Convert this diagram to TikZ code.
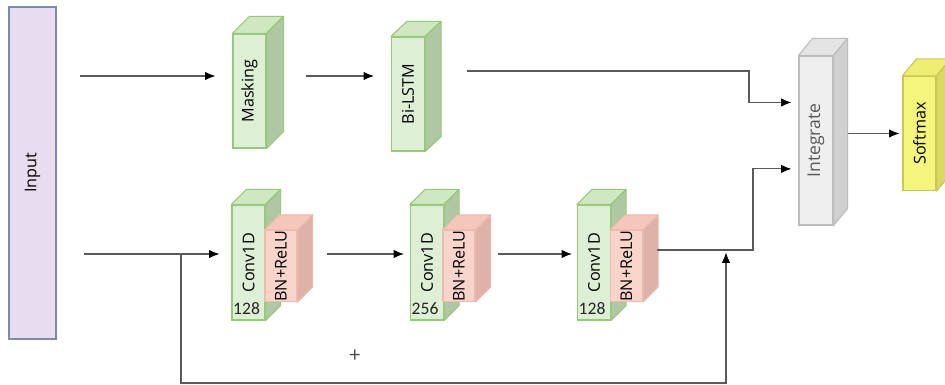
\documentclass[tikz,border=0pt]{standalone}
\usepackage{fontspec}
\usepackage{graphicx}
\setmainfont{Open Sans}
\newfontfamily\numfont{Carlito}
\usetikzlibrary{positioning, arrows.meta, calc}

\definecolor{convfront}{HTML}{DDEFD5}
\definecolor{convtop}{HTML}{D0E8C2}
\definecolor{convside}{HTML}{AFC7A3}
\definecolor{convline}{HTML}{96C97A}
\definecolor{bnfront}{HTML}{F9D4CA}
\definecolor{bntop}{HTML}{F5C6BA}
\definecolor{bnside}{HTML}{DEB2A8}
\definecolor{bnline}{HTML}{EDBBAE}
\definecolor{intfront}{HTML}{EFEFEF}
\definecolor{inttop}{HTML}{E4E4E4}
\definecolor{intside}{HTML}{D0D0D0}
\definecolor{intline}{HTML}{BDBDBD}
\definecolor{smfront}{HTML}{F5F57E}
\definecolor{smtop}{HTML}{EEEE74}
\definecolor{smside}{HTML}{D8D862}
\definecolor{smline}{HTML}{C8C852}
\definecolor{inputfill}{HTML}{E8DDEE}
\definecolor{inputline}{HTML}{7D8CA6}
\definecolor{wire}{HTML}{5A5A5A}

% vertical label
\newcommand{\vtext}[1]{\rotatebox{90}{#1}}
% top and side face of a layer block
\newcommand{\layerdepth}[4]{%
  \filldraw[fill=#4top, draw=#4line, line width=0.8pt, line join=round]
    (#1.north west) -- ($(#1.north west)+(#2,#3)$) -- ($(#1.north east)+(#2,#3)$) -- (#1.north east) -- cycle;
  \filldraw[fill=#4side, draw=#4line, line width=0.8pt, line join=round]
    (#1.north east) -- ($(#1.north east)+(#2,#3)$) -- ($(#1.south east)+(#2,#3)$) -- (#1.south east) -- cycle;
}

\begin{document}
\begin{tikzpicture}[
  x=0.025cm, y=-0.025cm,
  font=\fontsize{11.5}{13}\selectfont,
  layerbox/.style={rectangle, line width=0.8pt, inner sep=0pt, minimum width=8.25mm, minimum height=28.5mm, text=black},
  convbox/.style={layerbox, fill=convfront, draw=convline},
  bnbox/.style={layerbox, fill=bnfront, draw=bnline, minimum width=8mm, minimum height=17mm},
  inputbox/.style={rectangle, fill=inputfill, draw=inputline, line width=0.8pt, minimum width=11.75mm, minimum height=83mm, inner sep=0pt},
  numlabel/.style={inner sep=0.5pt, font=\numfont\fontsize{12.5}{14}\selectfont, text=black!85},
  flow/.style={-{Latex[length=2.6mm, width=2.1mm, color=black]}, draw=wire, line width=0.75pt},
  wireline/.style={draw=wire, line width=0.75pt}
]
\useasboundingbox (0,0) rectangle (945,385);

% Input
\node[inputbox] (input) at (32.5,173) {\vtext{Input}};

% Upper branch
\node[convbox] (mask) at (249.5,91) {\vtext{Masking}};
\layerdepth{mask}{17}{-17}{conv}
\node[convbox] (lstm) at (408,94) {\vtext{Bi-LSTM}};
\layerdepth{lstm}{16}{-15}{conv}

% Lower branch
\node[convbox, minimum height=28.75mm] (conv1) at (248.5,262.5) {\vtext{Conv1D}};
\layerdepth{conv1}{15}{-15}{conv}
\node[numlabel, above right=1.2mm and 0.2mm of conv1.south west] (n1) {128};
\node[bnbox] (bn1) at (281,266) {\vtext{BN+ReLU}};
\layerdepth{bn1}{15}{-15}{bn}

\node[convbox, minimum height=28.75mm] (conv2) at (427,262.5) {\vtext{Conv1D}};
\layerdepth{conv2}{15}{-15}{conv}
\node[numlabel, above right=1.2mm and 0.2mm of conv2.south west] (n2) {256};
\node[bnbox] (bn2) at (459,266) {\vtext{BN+ReLU}};
\layerdepth{bn2}{15}{-15}{bn}

\node[convbox, minimum height=28.75mm] (conv3) at (594,262.5) {\vtext{Conv1D}};
\layerdepth{conv3}{15}{-15}{conv}
\node[numlabel, above right=1.2mm and 0.2mm of conv3.south west] (n3) {128};
\node[bnbox] (bn3) at (626.5,266) {\vtext{BN+ReLU}};
\layerdepth{bn3}{15}{-15}{bn}

% Merge and output
\node[layerbox, fill=intfront, draw=intline, minimum width=8.5mm, minimum height=42.25mm, text=black!65, font=\fontsize{12.5}{14}\selectfont] (integ) at (816,140.5) {\vtext{Integrate}};
\layerdepth{integ}{14}{-17}{int}
\node[layerbox, fill=smfront, draw=smline] (soft) at (919.5,133.5) {\vtext{Softmax}};
\layerdepth{soft}{14}{-17}{sm}

% Routing
\coordinate (toprow) at (0,76);
\coordinate (lstmrow) at (0,71);
\coordinate (botrow) at (0,254);
\coordinate (outrow) at (0,250);
\coordinate (jtop) at (749,71);
\coordinate (jbot) at (753,250);
\coordinate (split) at (181,254);
\coordinate (resleft) at (181,383);
\coordinate (resright) at (726,383);

\draw[flow, shorten <=5.75mm, shorten >=4.25mm] (input.east |- toprow) -- (mask.west |- toprow);
\draw[flow, shorten <=9.75mm, shorten >=4.25mm] (mask.east |- toprow) -- (lstm.west |- toprow);
\draw[flow, shorten >=1.75mm] ([xshift=10.5mm]lstm.east |- lstmrow) -- (jtop) |- ([yshift=9.5mm]integ.west);

\draw[flow, shorten <=6.75mm, shorten >=3mm] (input.east |- botrow) -- (conv1.west |- botrow);
\draw[flow, shorten <=7.25mm, shorten >=1.5mm] (bn1.east |- botrow) -- (conv2.west |- botrow);
\draw[flow, shorten <=5.5mm, shorten >=1.25mm] (bn2.east |- botrow) -- (conv3.west |- botrow);
\draw[flow, shorten >=1.75mm] ([xshift=3.5mm]bn3.east |- outrow) -- (jbot) |- ([yshift=-7.1mm]integ.west);

% Residual path
\draw[flow, shorten >=0.6mm] (split) -- (resleft) -- (resright) -- (resright |- outrow);
\node[font=\fontsize{15}{15}\selectfont, text=black!70] (plus) at (355,356) {+};

\draw[flow, shorten <=3.5mm, shorten >=0.75mm] (integ.east |- soft.west) -- (soft.west);
\end{tikzpicture}
\end{document}
